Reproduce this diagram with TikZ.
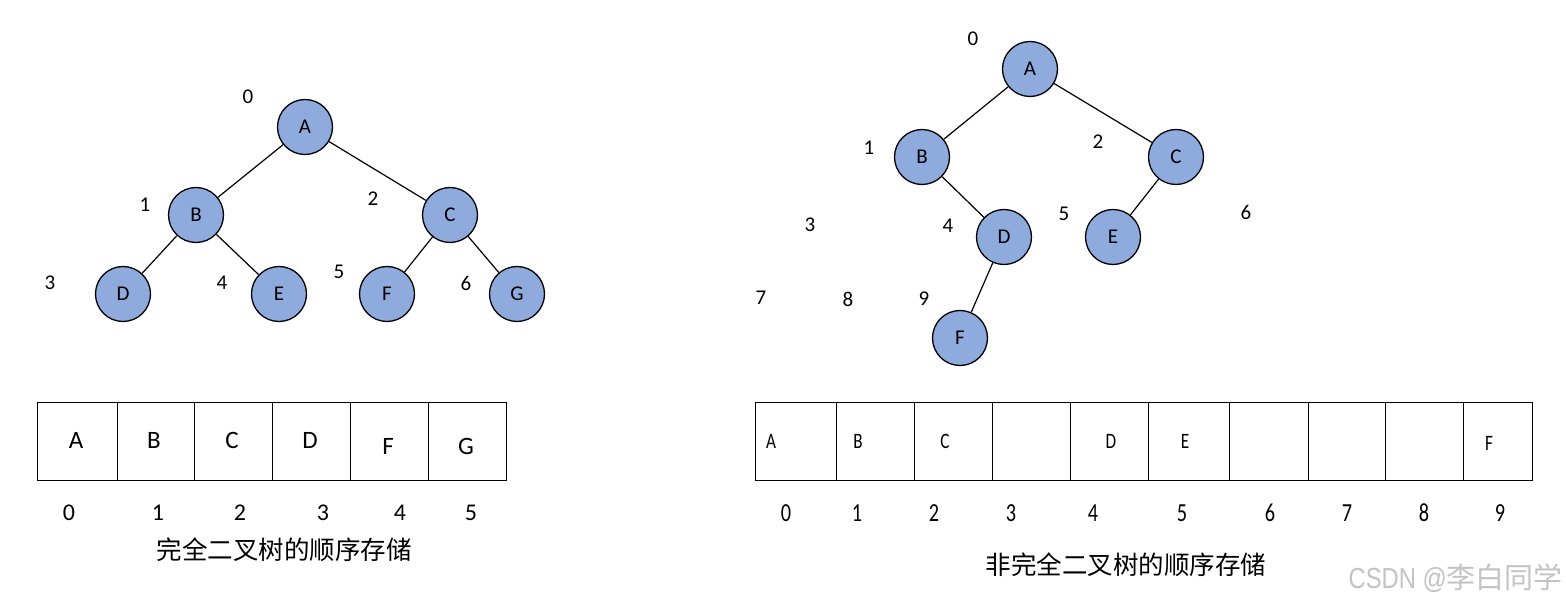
\documentclass[tikz,border=0pt]{standalone}
\usepackage{fontspec}
\setmainfont{Carlito}
\newfontfamily\cjk{Noto Sans CJK SC}
\newfontfamily\narrow[FakeStretch=0.78]{Carlito}
\newfontfamily\wmfont[FakeStretch=0.82]{Liberation Sans}
\definecolor{nodeblue}{RGB}{143,170,220}
\definecolor{wmgray}{RGB}{195,195,195}
\tikzset{
  tnode/.style={circle, draw=black, line width=1.3pt, fill=nodeblue, minimum size=55pt, inner sep=0pt, font=\fontsize{21}{21}\selectfont},
  idx/.style={inner sep=0pt, font=\fontsize{21}{21}\selectfont},
  edge/.style={line width=1.2pt},
  cellline/.style={line width=0.9pt},
  celltxt/.style={inner sep=0pt, font=\fontsize{25}{25}\selectfont},
  celltxtn/.style={inner sep=0pt, font=\narrow\fontsize{22}{22}\selectfont},
  arridx/.style={inner sep=0pt, font=\fontsize{24}{24}\selectfont},
  arridxn/.style={inner sep=0pt, font=\narrow\fontsize{26}{26}\selectfont},
  caption/.style={inner sep=0pt, font=\cjk\fontsize{25.5}{25.5}\selectfont},
}
\begin{document}
\begin{tikzpicture}[x=1pt,y=-1pt]
\useasboundingbox (0,0) rectangle (1566,609);
% ---------- left tree ----------
\node[tnode] (lA) at (305,127) {A};
\node[tnode] (lB) at (196,215) {B};
\node[tnode] (lC) at (450,215) {C};
\node[tnode] (lD) at (123,294) {D};
\node[tnode] (lE) at (279,294) {E};
\node[tnode] (lF) at (387,294) {F};
\node[tnode] (lG) at (517,294) {G};
\draw[edge] (lA) -- (lB);
\draw[edge] (lA) -- (lC);
\draw[edge] (lB) -- (lD);
\draw[edge] (lB) -- (lE);
\draw[edge] (lC) -- (lF);
\draw[edge] (lC) -- (lG);
\node[idx] (l0) at (248,97) {0};
\node[idx] (l1) at (145,205) {1};
\node[idx] (l2) at (373,199) {2};
\node[idx] (l3) at (50,283) {3};
\node[idx] (l4) at (222,283) {4};
\node[idx] (l5) at (339,272) {5};
\node[idx] (l6) at (466,283) {6};
% ---------- left array ----------
\draw[cellline] (37,402) rectangle (506,480);
\foreach \x in {117,194,272,350,428} \draw[cellline] (\x,402) -- (\x,480);
\node[celltxt] (la0) at (76,440) {A};
\node[celltxt] (la1) at (154,440) {B};
\node[celltxt] (la2) at (232,440) {C};
\node[celltxt] (la3) at (310,440) {D};
\node[celltxt] (la4) at (388,446) {F};
\node[celltxt] (la5) at (466,446) {G};
\node[arridx] (li0) at (69,513) {0};
\node[arridx] (li1) at (158,513) {1};
\node[arridx] (li2) at (240,513) {2};
\node[arridx] (li3) at (323,513) {3};
\node[arridx] (li4) at (400,513) {4};
\node[arridx] (li5) at (471,513) {5};
\node[caption] (lcap) at (284,550) {完全二叉树的顺序存储};
% ---------- right tree ----------
\node[tnode] (rA) at (1030,69) {A};
\node[tnode] (rB) at (922,157) {B};
\node[tnode] (rC) at (1176,157) {C};
\node[tnode] (rD) at (1004,237) {D};
\node[tnode] (rE) at (1113,237) {E};
\node[tnode] (rF) at (960,338) {F};
\draw[edge] (rA) -- (rB);
\draw[edge] (rA) -- (rC);
\draw[edge] (rB) -- (rD);
\draw[edge] (rC) -- (rE);
\draw[edge] (rD) -- (rF);
\node[idx] (r0) at (973,39) {0};
\node[idx] (r1) at (869,148) {1};
\node[idx] (r2) at (1098,142) {2};
\node[idx] (r3) at (810,225) {3};
\node[idx] (r4) at (948,226) {4};
\node[idx] (r5) at (1064,214) {5};
\node[idx] (r6) at (1246,212) {6};
\node[idx] (r7) at (761,298) {7};
\node[idx] (r8) at (848,299) {8};
\node[idx] (r9) at (924,299) {9};
% ---------- right array ----------
\draw[cellline] (755,402) rectangle (1532,480);
\foreach \x in {836,914,992,1070,1148,1229,1308,1385,1463} \draw[cellline] (\x,402) -- (\x,480);
\node[celltxtn] (ra0) at (771,441) {A};
\node[celltxtn] (ra1) at (858,441) {B};
\node[celltxtn] (ra2) at (945,441) {C};
\node[celltxtn] (ra4) at (1111,441) {D};
\node[celltxtn] (ra5) at (1185,441) {E};
\node[celltxtn] (ra9) at (1489,443) {F};
\node[arridxn] (ri0) at (786,513) {0};
\node[arridxn] (ri1) at (857,513) {1};
\node[arridxn] (ri2) at (934,513) {2};
\node[arridxn] (ri3) at (1011,513) {3};
\node[arridxn] (ri4) at (1093,513) {4};
\node[arridxn] (ri5) at (1182,513) {5};
\node[arridxn] (ri6) at (1270,513) {6};
\node[arridxn] (ri7) at (1347,513) {7};
\node[arridxn] (ri8) at (1424,513) {8};
\node[arridxn] (ri9) at (1500,513) {9};
\node[caption] (rcap) at (1126,565) {非完全二叉树的顺序存储};
% watermark
\node[inner sep=0pt, anchor=east, text=wmgray, font=\fontsize{29}{29}\selectfont] (wm) at (1563,578) {\wmfont CSDN @{\cjk 李白同学}};
\end{tikzpicture}
\end{document}
